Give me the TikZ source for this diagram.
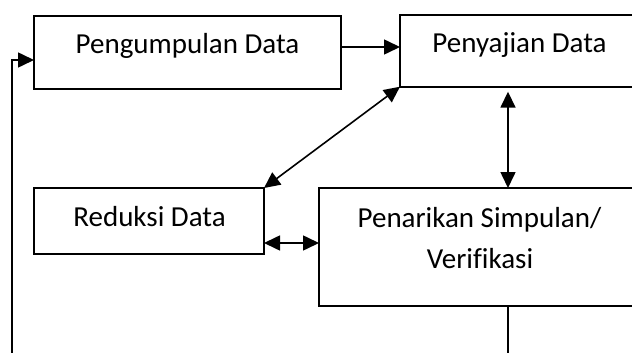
\documentclass[tikz,border=0pt]{standalone}
\usepackage{fontspec}
\setmainfont{Carlito}[Ligatures=NoCommon]
\usetikzlibrary{arrows.meta,calc}
\begin{document}
\begin{tikzpicture}[x=1pt,y=-1pt,
  box/.style={draw,line width=2pt,rectangle,inner sep=0pt,outer sep=0pt},
  lbl/.style={anchor=base,inner sep=0pt,font=\fontsize{29}{41}\selectfont},
  conn/.style={line width=1.6pt},
  tip/.style={-{Triangle[length=16pt,width=15pt]}},
  dtip/.style={{Triangle[length=16pt,width=15pt]}-{Triangle[length=16pt,width=15pt]}}]
\useasboundingbox (0,0) rectangle (632,353);
\clip (0,0) rectangle (632,353);
% boxes
\node[box,minimum width=307pt,minimum height=72.5pt] (b1) at (187.5,52.75) {};
\node[box,minimum width=240pt,minimum height=72pt] (b2) at (520,50.7) {};
\node[box,minimum width=230pt,minimum height=66pt] (b3) at (149,221) {};
\node[box,minimum width=322pt,minimum height=118pt] (b4) at (480,247) {};
% labels
\node[lbl] (t1) at (187.5,54) {Pengumpulan Data};
\node[lbl] (t2) at (519.5,53) {Penyajian Data};
\node[lbl] (t3) at (149.5,226) {Reduksi Data};
\node[lbl] (t4a) at (479.5,227) {Penarikan Simpulan/};
\node[lbl] (t4b) at (480,268) {Verifikasi};
% helper coordinates
\coordinate (lb) at (12,353);
\coordinate (in1) at (34,60);
\coordinate (y12) at (0,47);
\coordinate (x24) at (508,0);
\coordinate (y34) at (0,243);
\coordinate (bb) at (508,353);
% connectors
\draw[conn,tip] (lb) |- (in1);
\draw[conn,tip] (b1.east |- y12) -- (b2.west |- y12);
\draw[conn,dtip] (b2.south west) -- (b3.north east);
\draw[conn,dtip,shorten <=5pt] (b2.south -| x24) -- (b4.north -| x24);
\draw[conn,dtip] (b3.east |- y34) -- (b4.west |- y34);
\draw[conn] (b4.south -| x24) -- (bb);
\end{tikzpicture}
\end{document}
